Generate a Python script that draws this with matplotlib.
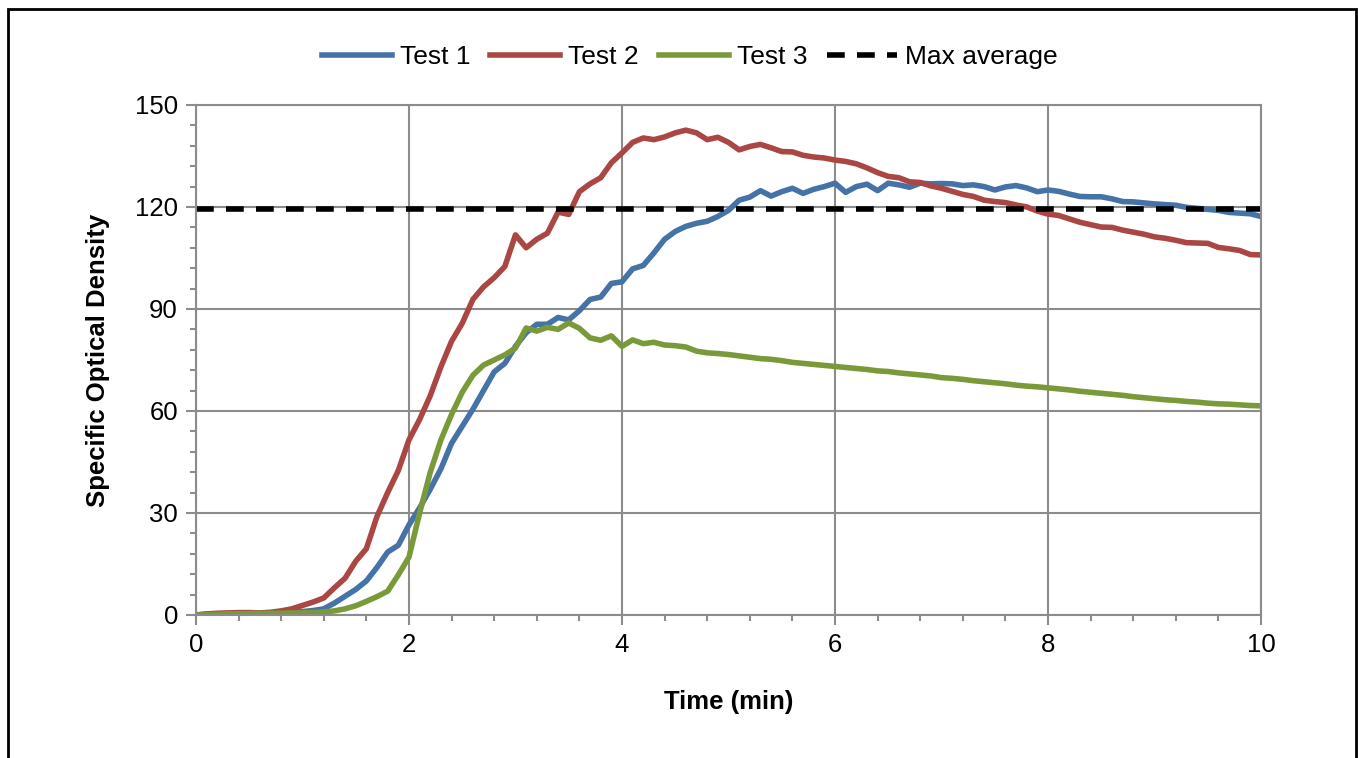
import numpy as np
import matplotlib
matplotlib.use("Agg")
import matplotlib.pyplot as plt
from matplotlib.patches import Rectangle
from matplotlib.ticker import MultipleLocator

plt.rcParams["font.family"] = ["Liberation Sans", "DejaVu Sans"]

# time axis (min)
time = np.round(np.arange(0, 10.01, 0.1), 1)

test1 = [0.0, 0.2, 0.3, 0.4, 0.5, 0.5, 0.5, 0.6, 0.7, 0.9,
         1.0, 1.3, 1.8, 3.5, 5.5, 7.5, 10.0, 14.0, 18.5, 20.5,
         26.5, 31.5, 37.0, 43.0, 50.5, 55.5, 60.5, 66.0, 71.5, 74.0,
         79.0, 83.0, 85.5, 85.5, 87.5, 86.8, 89.5, 92.8, 93.5, 97.5,
         98.0, 101.8, 102.8, 106.5, 110.5, 112.8, 114.3, 115.2, 115.8, 117.2,
         119.0, 122.0, 122.9, 124.8, 123.2, 124.5, 125.5, 124.0, 125.2, 126.0,
         127.0, 124.3, 126.0, 126.7, 124.8, 127.0, 126.5, 125.8, 127.0, 126.8,
         126.9, 126.8, 126.3, 126.5, 126.0, 125.0, 125.9, 126.3, 125.6, 124.5,
         125.0, 124.6, 123.8, 123.1, 123.0, 123.0, 122.4, 121.6, 121.5, 121.2,
         120.9, 120.7, 120.5, 119.9, 119.6, 119.3, 119.0, 118.4, 118.2, 118.0,
         117.2]

test2 = [0.0, 0.3, 0.5, 0.6, 0.7, 0.7, 0.6, 0.8, 1.2, 1.8,
         2.8, 3.8, 5.0, 8.0, 10.8, 15.8, 19.5, 29.0, 36.0, 42.5,
         51.5, 57.5, 64.5, 73.0, 80.5, 85.8, 92.8, 96.5, 99.2, 102.5,
         111.8, 108.0, 110.5, 112.3, 118.5, 117.8, 124.5, 126.8, 128.6, 133.0,
         135.9, 139.0, 140.3, 139.8, 140.6, 141.8, 142.6, 141.8, 139.8, 140.5,
         139.0, 136.8, 137.8, 138.4, 137.4, 136.3, 136.2, 135.2, 134.7, 134.4,
         133.8, 133.4, 132.7, 131.5, 130.1, 129.0, 128.6, 127.4, 127.2, 126.2,
         125.5, 124.6, 123.7, 123.1, 122.0, 121.6, 121.3, 120.6, 120.0, 118.8,
         117.9, 117.5, 116.5, 115.5, 114.8, 114.1, 114.0, 113.2, 112.6, 112.0,
         111.2, 110.8, 110.2, 109.5, 109.4, 109.3, 108.1, 107.7, 107.2, 106.0,
         105.9]

test3 = [0.0, 0.1, 0.2, 0.3, 0.4, 0.4, 0.5, 0.5, 0.5, 0.6,
         0.6, 0.7, 0.9, 1.2, 1.8, 2.7, 4.0, 5.4, 7.0, 11.8,
         17.0, 30.0, 42.0, 51.5, 59.0, 65.5, 70.5, 73.5, 75.0, 76.5,
         78.5, 84.4, 83.5, 84.6, 84.0, 85.9, 84.3, 81.5, 80.8, 82.1,
         79.0, 80.9, 79.8, 80.2, 79.4, 79.2, 78.8, 77.6, 77.1, 76.9,
         76.6, 76.2, 75.8, 75.4, 75.2, 74.8, 74.3, 74.0, 73.7, 73.4,
         73.1, 72.8, 72.5, 72.2, 71.8, 71.6, 71.2, 70.9, 70.6, 70.3,
         69.8, 69.6, 69.3, 68.9, 68.6, 68.3, 68.0, 67.6, 67.3, 67.1,
         66.8, 66.5, 66.2, 65.8, 65.5, 65.2, 64.9, 64.6, 64.2, 63.9,
         63.6, 63.3, 63.1, 62.8, 62.6, 62.3, 62.1, 62.0, 61.8, 61.6,
         61.5]

max_average = 119.4

fig = plt.figure(figsize=(13.58, 7.58), dpi=100)
ax = fig.add_axes([0.1443, 0.1887, 0.7843, 0.6728])

ax.plot(time, test1, color="#4572A7", lw=4.0, label="Test 1")
ax.plot(time, test2, color="#AA4643", lw=4.0, label="Test 2")
ax.plot(time, test3, color="#7A9A3A", lw=4.0, label="Test 3")
ax.plot([0, 10], [max_average, max_average], color="black", lw=4.0,
        linestyle=(0, (3.2, 2.2)), label="Max average")

ax.set_xlim(0, 10)
ax.set_ylim(0, 150)
ax.xaxis.set_major_locator(MultipleLocator(2))
ax.xaxis.set_minor_locator(MultipleLocator(0.4))
ax.yaxis.set_major_locator(MultipleLocator(30))
ax.yaxis.set_minor_locator(MultipleLocator(6))
ax.grid(True, which="major", color="#8C8C8C", lw=1.5)
ax.set_axisbelow(True)
for s in ax.spines.values():
    s.set_color("#8C8C8C")
    s.set_linewidth(1.5)
ax.tick_params(which="both", direction="out", color="#8C8C8C", width=1.5)
ax.tick_params(which="major", length=7, labelsize=18.5, pad=6)
ax.tick_params(which="minor", length=4)

ax.set_xlabel("Time (min)", fontsize=18.5, fontweight="bold", labelpad=24)
ax.set_ylabel("Specific Optical Density", fontsize=18.5, fontweight="bold", labelpad=18)

fig.legend(loc="center", bbox_to_anchor=(0.508, 0.925), ncol=4, frameon=False,
           fontsize=19, handlelength=2.65, columnspacing=0.75, handletextpad=0.3)

fig.patches.append(Rectangle((0.006, -0.05), 0.9925, 1.038, transform=fig.transFigure,
                             fill=False, edgecolor="black", lw=2))

fig.savefig("out.png", dpi=100)
